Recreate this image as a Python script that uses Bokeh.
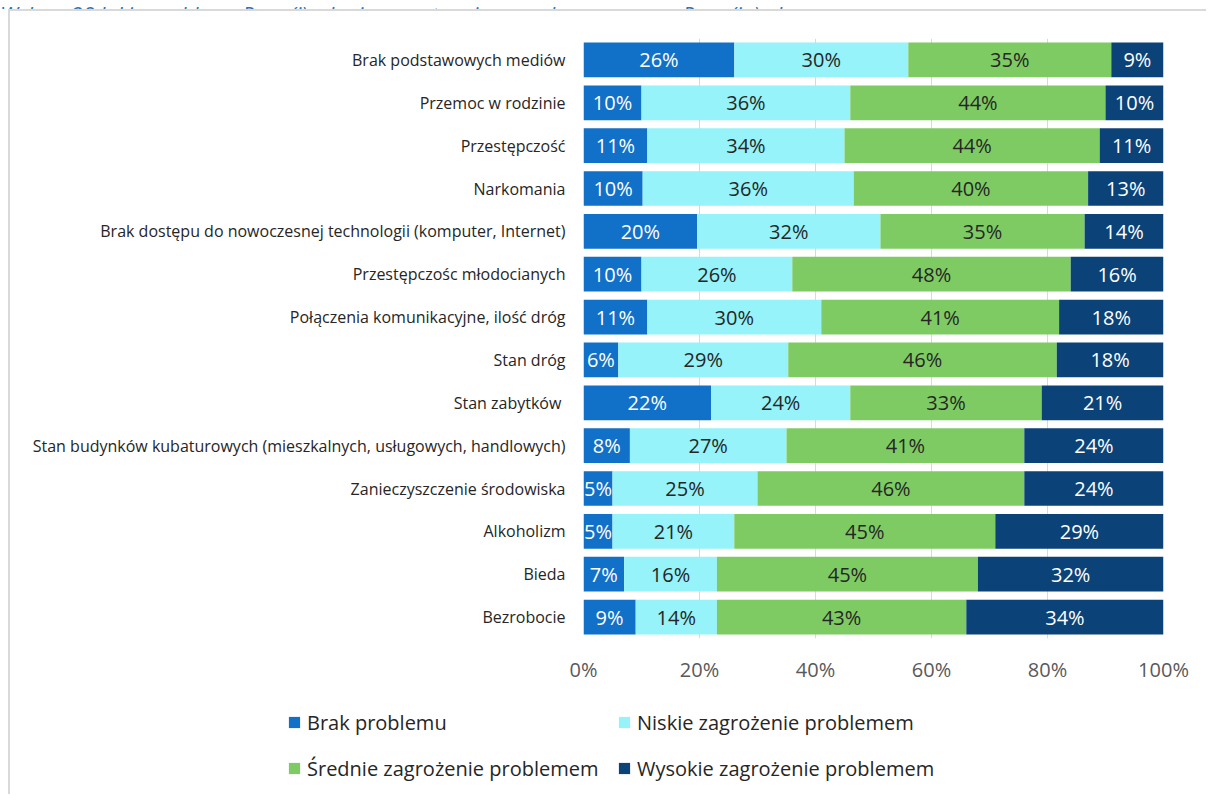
from bokeh.plotting import figure
from bokeh.models import ColumnDataSource, FactorRange, Range1d, Legend, LegendItem, FixedTicker, Div
from bokeh.core.properties import value
from bokeh.embed import file_html
from bokeh.resources import INLINE

title_text = "Wykres 28 Jakie problemy Pana(i) zdaniem występują na wybranym przez Pana(ią) obszarze"
categories = [
    "Brak podstawowych mediów",
    "Przemoc w rodzinie",
    "Przestępczość",
    "Narkomania",
    "Brak dostępu do nowoczesnej technologii (komputer, Internet)",
    "Przestępczośc młodocianych",
    "Połączenia komunikacyjne, ilość dróg",
    "Stan dróg",
    "Stan zabytków ",
    "Stan budynków kubaturowych (mieszkalnych, usługowych, handlowych)",
    "Zanieczyszczenie środowiska",
    "Alkoholizm",
    "Bieda",
    "Bezrobocie",
]
brak = [26, 10, 11, 10.2, 19.6, 10, 11, 6.0, 22, 8, 5, 5, 7, 9]
niskie = [30, 36, 34, 36.4, 31.6, 26, 30, 29.3, 24, 27, 25, 21, 16, 14]
srednie = [35, 44, 44, 40.4, 35.2, 48, 41, 46.3, 33, 41, 46, 45, 45, 43]
wysokie = [9, 10, 11, 13.0, 13.6, 16, 18, 18.4, 21, 24, 24, 29, 32, 34]
series_names = ["Brak problemu", "Niskie zagrożenie problemem",
                "Średnie zagrożenie problemem", "Wysokie zagrożenie problemem"]
tick_values = [0, 20, 40, 60, 80, 100]
tick_labels = ["0%", "20%", "40%", "60%", "80%", "100%"]

colors = ["#1170C8", "#95F3F9", "#7ECB63", "#0B4378"]
label_colors = ["#FFFFFF", "#262626", "#262626", "#FFFFFF"]
FONT = "Open Sans"
BORDER = "2px solid #d9d9d9"

series = [brak, niskie, srednie, wysokie]
keys = ["s0", "s1", "s2", "s3"]
data = {"cat": categories}
for k, s in zip(keys, series):
    data[k] = s
source = ColumnDataSource(data)

# cut-off caption above the chart box
title = Div(text=f'<div style="margin-top:-20px; white-space:nowrap;">{title_text}</div>',
            width=1208, height=9)
title.styles = {"overflow": "hidden", "font-family": "Open Sans", "font-style": "italic",
                "font-size": "21px", "color": "#2E74B5", "margin": "0", "padding": "0"}

p = figure(
    width=1198, height=690,
    y_range=FactorRange(factors=list(reversed(categories))),
    x_range=Range1d(0, 100),
    output_backend="svg", toolbar_location=None,
    min_border_left=573, min_border_right=45,
    min_border_top=27, min_border_bottom=63,
)
p.styles = {"margin-left": "8px", "border-left": BORDER, "border-top": BORDER,
            "position": "relative", "z-index": "2"}
p.outline_line_color = None
p.background_fill_color = "white"
p.border_fill_color = "white"

renderers = p.hbar_stack(keys, y="cat", height=0.81, color=colors, source=source, line_color=None)

# value labels
lx, ly, lt, lc = [], [], [], []
for i, cat in enumerate(categories):
    cum = 0.0
    for j, s in enumerate(series):
        v = s[i]
        lx.append(cum + v / 2.0)
        ly.append(cat)
        lt.append(f"{v:.0f}%")
        lc.append(label_colors[j])
        cum += v
lsrc = ColumnDataSource(dict(x=lx, y=ly, t=lt, c=lc))
p.text(x="x", y="y", text="t", text_color="c", source=lsrc, text_align="center",
       text_baseline="middle", text_font=value(FONT), text_font_size="20px")

# axes
p.xaxis.ticker = FixedTicker(ticks=tick_values)
p.xaxis.major_label_overrides = {v: l for v, l in zip(tick_values, tick_labels)}
p.xaxis.axis_line_color = None
p.xaxis.major_tick_line_color = None
p.xaxis.minor_tick_line_color = None
p.xaxis.major_label_text_font = FONT
p.xaxis.major_label_text_font_size = "20px"
p.xaxis.major_label_text_color = "#595959"
p.xaxis.major_label_standoff = 11

p.yaxis.axis_line_color = None
p.yaxis.major_tick_line_color = None
p.yaxis.minor_tick_line_color = None
p.yaxis.major_label_text_font = FONT
p.yaxis.major_label_text_font_size = "16px"
p.yaxis.major_label_text_color = "#262626"
p.yaxis.major_label_standoff = 12

p.ygrid.grid_line_color = None
p.xgrid.grid_line_color = "#d9d9d9"
p.xgrid.grid_line_width = 1

# legend panel (separate root, so its frame is not aligned with the chart's)
p2 = figure(width=1198, height=103, x_range=Range1d(0, 1), y_range=Range1d(0, 1),
            output_backend="svg", toolbar_location=None,
            min_border_left=0, min_border_right=0, min_border_top=0, min_border_bottom=0)
p2.styles = {"margin-left": "8px", "margin-top": "-8px", "border-left": BORDER,
             "position": "relative", "z-index": "1", "clip-path": "inset(6px 0 0 0)"}
p2.axis.visible = False
p2.grid.visible = False
p2.outline_line_color = None
p2.border_fill_color = "white"
p2.background_fill_color = "white"
dummy = [p2.hbar(y=[5], left=[0], right=[1], height=0.1, color=c, line_color=None) for c in colors]

def make_legend(idx, x, y):
    items = [LegendItem(label=series_names[k], renderers=[dummy[k]]) for k in idx]
    lg = Legend(items=items, location=(x, y), orientation="vertical",
                label_text_font=FONT, label_text_font_size="20px",
                label_text_color="#262626", glyph_width=14, glyph_height=14,
                label_standoff=6, spacing=10, label_height=36, padding=0, margin=0,
                border_line_color=None, background_fill_alpha=0)
    p2.add_layout(lg, "center")

make_legend([0, 2], 277, 8)
make_legend([1, 3], 607, 8)

open("out.html", "w").write(file_html([title, p, p2], INLINE))
